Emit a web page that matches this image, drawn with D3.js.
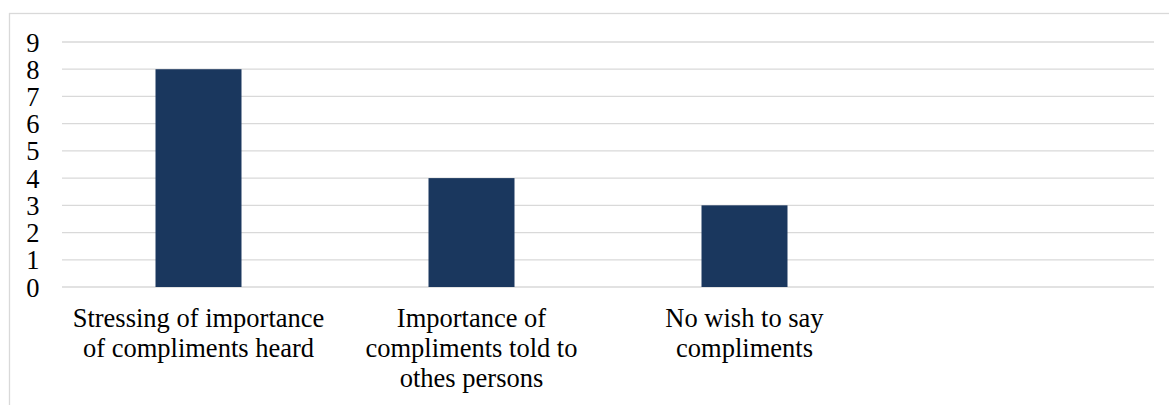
<!DOCTYPE html>
<html>
<head>
<meta charset="utf-8">
<script src="https://cdn.jsdelivr.net/npm/d3@7"></script>
<style>
  body { margin: 0; background: #fff; }
  text { font-family: "Liberation Serif", "Times New Roman", serif; fill: #000; }
</style>
</head>
<body>
<svg width="1169" height="405"></svg>
<script>
// data
var categories = [
  ['Stressing of importance', 'of compliments heard'],
  ['Importance of', 'compliments told to', 'othes persons'],
  ['No wish to say', 'compliments'],
  ['']
];
var values = [8, 4, 3, null];
var yTicks = [0, 1, 2, 3, 4, 5, 6, 7, 8, 9];

var svg = d3.select('svg');
var width = +svg.attr('width');
var height = +svg.attr('height');

// chart frame
svg.append('rect')
    .attr('x', 9.5).attr('y', 13.5)
    .attr('width', width).attr('height', height)
    .attr('fill', 'none')
    .attr('stroke', '#d9d9d9')
    .attr('stroke-width', 1.3);

var padding = {t: 42, r: 15, b: 118, l: 62};

var xScale = d3.scaleBand()
    .domain(d3.range(categories.length))
    .range([padding.l, width - padding.r])
    .paddingInner(0.685)
    .paddingOuter(0.3425);

var yScale = d3.scaleLinear()
    .domain([0, 9])
    .range([height - padding.b, padding.t]);

// gridlines
svg.append('g')
    .selectAll('line')
    .data(yTicks)
    .enter()
    .append('line')
    .attr('x1', padding.l)
    .attr('x2', width - padding.r)
    .attr('y1', d => yScale(d))
    .attr('y2', d => yScale(d))
    .attr('stroke', '#d9d9d9')
    .attr('stroke-width', 1.3);

// bars
svg.append('g')
    .selectAll('rect')
    .data(values.map((v, i) => ({i: i, v: v})).filter(d => d.v != null))
    .enter()
    .append('rect')
    .attr('x', d => xScale(d.i))
    .attr('width', xScale.bandwidth())
    .attr('y', d => yScale(d.v))
    .attr('height', d => yScale(0) - yScale(d.v))
    .attr('fill', '#1a375e');

// y axis labels
var yAxis = d3.axisLeft(yScale).tickValues(yTicks).tickSize(0).tickPadding(0);
var yg = svg.append('g')
    .attr('transform', 'translate(39.5,0)')
    .call(yAxis);
yg.select('.domain').remove();
yg.selectAll('text')
    .style('font-family', '"Liberation Serif", serif')
    .style('font-size', '26.5px')
    .attr('dy', '0.34em')
    .attr('fill', '#000');

// category labels
var xg = svg.append('g');
categories.forEach(function(lines, i) {
    var t = xg.append('text')
        .attr('text-anchor', 'middle')
        .attr('font-size', '26.5px')
        .attr('y', yScale(0) + 40);
    lines.forEach(function(line, j) {
        t.append('tspan')
            .attr('x', xScale(i) + xScale.bandwidth() / 2)
            .attr('dy', j === 0 ? 0 : 30)
            .text(line);
    });
});
</script>
</body>
</html>
